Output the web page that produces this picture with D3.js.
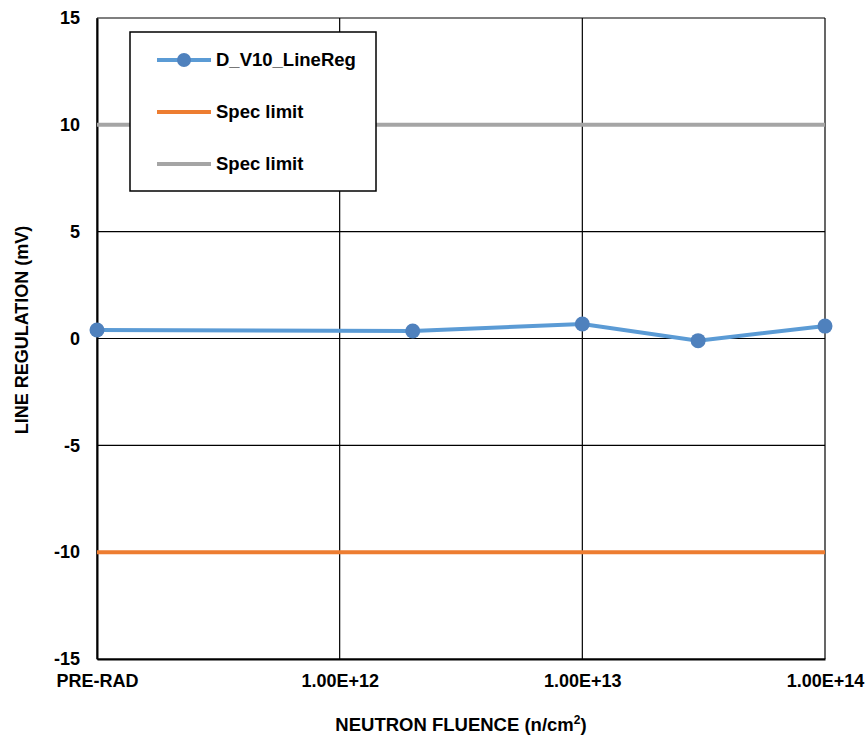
<!DOCTYPE html>
<html><head><meta charset="utf-8">
<script src="https://cdn.jsdelivr.net/npm/d3@7"></script>
<style>body{margin:0;background:#fff}svg{display:block}text{font-family:"Liberation Sans",Arial,sans-serif;font-weight:bold}</style>
</head><body><svg id="c" width="868" height="738"></svg>
<script>
const fluence = [1e11, 2e12, 1e13, 3e13, 1e14];
const lineReg = [0.4, 0.35, 0.68, -0.1, 0.58];
const specLow = -10;
const specHigh = 10;
const xTicks = [1e11, 1e12, 1e13, 1e14];
const xTickLabels = ["PRE-RAD", "1.00E+12", "1.00E+13", "1.00E+14"];
const yTicks = [-15, -10, -5, 0, 5, 10, 15];
const seriesNames = ["D_V10_LineReg", "Spec limit", "Spec limit"];
const colors = ["#5B9BD5", "#ED7D31", "#A5A5A5"];
const markerColor = "#4F81BD";

const svg = d3.select("#c");
const L = 97, R = 825, T = 18, B = 659;
const x = d3.scaleLog().domain([1e11, 1e14]).range([L, R]);
const y = d3.scaleLinear().domain([-15, 15]).range([B, T]);

// grid
svg.append("g").selectAll("line").data(yTicks).join("line")
  .attr("x1", L).attr("x2", R).attr("y1", d => y(d)).attr("y2", d => y(d))
  .attr("stroke", "#000").attr("stroke-width", 1.2);
svg.append("g").selectAll("line").data(xTicks).join("line")
  .attr("x1", d => x(d)).attr("x2", d => x(d)).attr("y1", T).attr("y2", B)
  .attr("stroke", "#000").attr("stroke-width", 1.2);

// axes
const yAxis = d3.axisLeft(y).tickValues(yTicks).tickFormat(d => String(d)).tickSize(0).tickPadding(17);
const gy = svg.append("g").attr("transform", `translate(${L},0)`).call(yAxis);
gy.select(".domain").attr("stroke", "#000").attr("stroke-width", 2);
gy.selectAll("text").attr("font-size", 18).attr("font-weight", "bold").attr("fill", "#000")
  .attr("font-family", "'Liberation Sans',Arial,sans-serif");

const xAxis = d3.axisBottom(x).tickValues(xTicks).tickFormat((d, i) => xTickLabels[i]).tickSize(0).tickPadding(15);
const gx = svg.append("g").attr("transform", `translate(0,${B})`).call(xAxis);
gx.select(".domain").attr("stroke", "#000").attr("stroke-width", 2);
gx.selectAll("text").attr("font-size", 18).attr("font-weight", "bold").attr("fill", "#000")
  .attr("font-family", "'Liberation Sans',Arial,sans-serif");

// spec limits
[specLow, specHigh].forEach((v, i) => {
  svg.append("line").attr("x1", x(1e11)).attr("x2", x(1e14)).attr("y1", y(v)).attr("y2", y(v))
    .attr("stroke", colors[i + 1]).attr("stroke-width", 4);
});

// series
const data = fluence.map((f, i) => ({f, v: lineReg[i]}));
svg.append("path").datum(data)
  .attr("d", d3.line().x(d => x(d.f)).y(d => y(d.v)))
  .attr("fill", "none").attr("stroke", colors[0]).attr("stroke-width", 4);
svg.append("g").selectAll("circle").data(data).join("circle")
  .attr("cx", d => x(d.f)).attr("cy", d => y(d.v)).attr("r", 7.5).attr("fill", markerColor);

// legend
const lg = svg.append("g");
lg.append("rect").attr("x", 130).attr("y", 32).attr("width", 246).attr("height", 159)
  .attr("fill", "#fff").attr("stroke", "#000").attr("stroke-width", 1.5);
seriesNames.forEach((n, i) => {
  const yy = 60 + i * 52;
  lg.append("line").attr("x1", 157).attr("x2", 211).attr("y1", yy).attr("y2", yy)
    .attr("stroke", colors[i]).attr("stroke-width", 4);
  if (i === 0) lg.append("circle").attr("cx", 184).attr("cy", yy).attr("r", 7).attr("fill", markerColor);
  lg.append("text").attr("x", 216).attr("y", yy).attr("dy", "0.35em").attr("font-size", 18.5).text(n);
});

// titles
svg.append("text").attr("x", 461).attr("y", 731).attr("text-anchor", "middle").attr("font-size", 18.5)
  .html('NEUTRON FLUENCE (n/cm<tspan dy="-7" font-size="12">2</tspan><tspan dy="7">)</tspan>');
svg.append("text").attr("transform", `translate(28,330) rotate(-90)`)
  .attr("text-anchor", "middle").attr("font-size", 18).text("LINE REGULATION (mV)");
</script></body></html>
